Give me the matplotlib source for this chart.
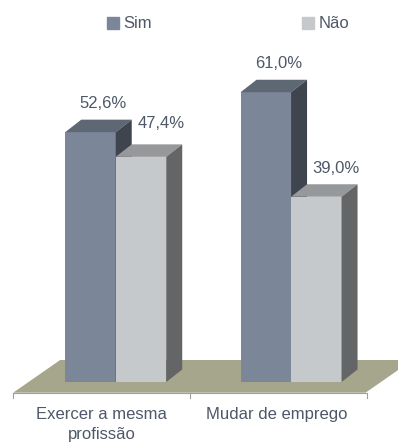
import matplotlib.pyplot as plt
from matplotlib.patches import Polygon, Patch

# data
categories = ["Exercer a mesma\nprofissão", "Mudar de emprego"]
series = ["Sim", "Não"]
sim = [52.6, 61.0]
nao = [47.4, 39.0]
value_labels_sim = ["52,6%", "61,0%"]
value_labels_nao = ["47,4%", "39,0%"]

# colours: front, top, side
sim_cols = ("#7b8799", "#5e6774", "#3f454f")
nao_cols = ("#c6c9cc", "#96989a", "#646566")
text_col = "#4f5868"
floor_col = "#a6a68c"

plt.rcParams["font.family"] = ["Liberation Sans", "DejaVu Sans"]

fig = plt.figure(figsize=(3.98, 4.43), dpi=100)
ax = fig.add_axes([0, 0, 1, 1])
ax.set_xlim(-0.66, 1.61)
ax.set_ylim(-12.84, 80.42)
ax.axis("off")

w = 0.288     # bar width
dx = 0.0913   # depth offset in x
dy = 2.63     # depth offset in y
shift = -0.08 # category slot shift due to perspective
nao_label_lift = [29, 24]  # pixels above the front top (Excel nudges the first one)


def bar3d(x0, val, cols, z):
    x1 = x0 + w
    ax.bar(x0, val, w, align="edge", color=cols[0], zorder=z, linewidth=0)
    top = [(x0, val), (x1, val), (x1 + dx, val + dy), (x0 + dx, val + dy)]
    side = [(x1, 0), (x1, val), (x1 + dx, val + dy), (x1 + dx, dy)]
    ax.add_patch(Polygon(top, closed=True, color=cols[1], lw=0, zorder=z))
    ax.add_patch(Polygon(side, closed=True, color=cols[2], lw=0, zorder=z))


# floor
xs = range(len(categories))
left = shift - 0.505
right = len(categories) - 1 + shift + 0.505
floor = [(left, -2.25), (right, -2.25), (right + 0.268, 4.63), (left + 0.268, 4.63)]
ax.add_patch(Polygon(floor, closed=True, color=floor_col, lw=0, zorder=1))

# category axis line and ticks
ax.plot([left, right], [-2.25, -2.25], color="#a0a0a0", lw=0.8, zorder=2)
for i in range(len(categories) + 1):
    tx = left + i * 1.01
    ax.plot([tx, tx], [-2.25, -3.3], color="#a0a0a0", lw=0.8, zorder=2)

for i in xs:
    bar3d(i - w, sim[i], sim_cols, 3 + 2 * i)
    bar3d(i, nao[i], nao_cols, 4 + 2 * i)
    ax.annotate(value_labels_sim[i], (i - w / 2, sim[i]), xytext=(13, 24),
                textcoords="offset pixels", ha="center", va="baseline",
                fontsize=12, color=text_col)
    ax.annotate(value_labels_nao[i], (i + w / 2, nao[i]), xytext=(20, nao_label_lift[i]),
                textcoords="offset pixels", ha="center", va="baseline",
                fontsize=12, color=text_col)
    ax.text(i + shift, -5.2, categories[i], ha="center", va="top",
            fontsize=12, color=text_col, linespacing=1.45)

handles = [Patch(color=sim_cols[0]), Patch(color=nao_cols[0])]
fig.legend(handles, series, loc="center left", bbox_to_anchor=(107 / 398, 1 - 24 / 443),
           ncol=2, frameon=False, fontsize=12, handlelength=0.7, handleheight=0.7,
           handletextpad=0.3, columnspacing=9.0, borderpad=0, borderaxespad=0,
           labelcolor=text_col)

fig.savefig("out.png", dpi=100)
